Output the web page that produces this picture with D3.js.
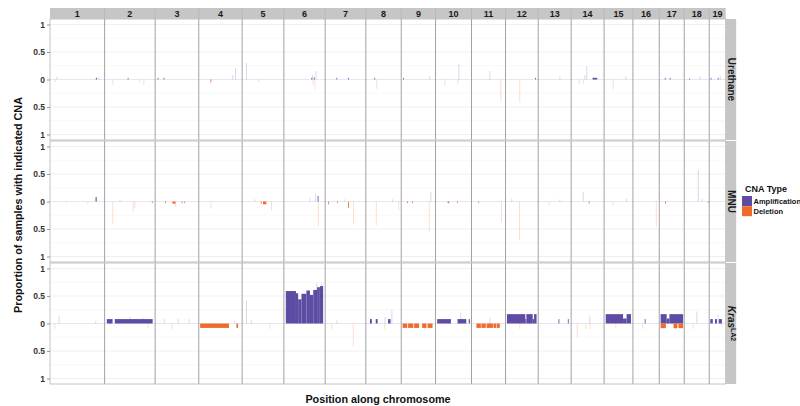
<!DOCTYPE html>
<html>
<head>
<meta charset="utf-8">
<script src="https://d3js.org/d3.v7.min.js"></script>
<style>
  body { margin: 0; background: #fff; }
  text { font-family: "Liberation Sans", Arial, Helvetica, sans-serif; font-weight: bold; }
</style>
</head>
<body>
<div id="chart"></div>
<script>
// chromosomes and their plotted length (Mb)
const chrNames = ["1","2","3","4","5","6","7","8","9","10","11","12","13","14","15","16","17","18","19"]
const chrLengths = [199,184,159,158,152,150.5,148,129,125,131,124,119,120,120,105,96,91,91,60]

const groupNames = ["Urethane","MNU","Kras"]
const yTicks = [-1,-0.5,0,0.5,1]

// segments: [chromosome, start Mb, end Mb, proportion]
// probes:   [chromosome, position Mb, proportion]
const urethaneAmp = [[1,167,171,0.03],[2,84,87,0.03],[3,9,12,0.03],[3,31,34,0.03],[6,100,103,0.03],[6,109,112,0.04],
  [7,41,44,0.03],[7,83,86,0.03],[8,31,34,0.03],[9,7,10,0.03],[12,108,111,0.03],[14,78,95,0.03],[17,20,23,0.03],
  [17,38,41,0.03],[18,18,21,0.02],[19,5,8,0.03],[19,31,34,0.03]]
const urethaneAmpProbes = [[1,25,0.05],[1,178,0.04],[4,124,0.08],[4,134,0.21],[5,16,0.3],[6,117,0.15],[6,104,0.08],
  [9,104,0.06],[10,85,0.27],[11,67,0.15],[13,79,0.05],[14,57,0.24],[14,50,0.08],[15,79,0.05],[18,57,0.05],[19,40,0.06]]
const urethaneDel = [[4,43,46,0.04]]
const urethaneDelProbes = [[1,18,0.05],[2,30,0.1],[2,143,0.1],[2,128,0.06],[4,43,0.08],[5,60,0.05],[6,113,0.18],
  [6,106,0.1],[8,40,0.17],[10,34,0.12],[10,81,0.08],[11,107,0.39],[12,52,0.42],[14,29,0.1],[14,44,0.08],[15,33,0.18]]

const mnuAmp = [[1,166,170,0.08],[6,123,126,0.1]]
const mnuAmpProbes = [[6,116,0.14],[6,95,0.06],[9,108,0.17],[2,56,0.04],[5,46,0.04],[7,72,0.04],[8,98,0.04],
  [12,23,0.05],[13,79,0.04],[14,44,0.17],[15,82,0.05],[18,51,0.58],[18,65,0.05]]
const mnuDel = [[2,172,175,0.03],[3,36,39,0.03],[3,63,74,0.04],[3,97,100,0.03],[3,106,109,0.03],[5,68,71,0.04],
  [5,76,88,0.05],[7,11,14,0.05],[7,43,46,0.03],[7,83,86,0.12],[9,21,24,0.03],[9,40,43,0.03],[10,44,50,0.03],
  [10,78,81,0.03],[11,25,28,0.03],[14,64,67,0.04],[17,21,24,0.04],[18,86,89,0.03]]
const mnuDelProbes = [[1,138,0.05],[1,60,0.03],[2,30,0.41],[2,104,0.19],[2,110,0.12],[3,75,0.1],[4,44,0.13],
  [5,107,0.16],[6,125,0.46],[7,103,0.42],[8,38,0.43],[8,120,0.16],[9,102,0.55],[11,109,0.37],[12,51,0.7],
  [13,40,0.06],[15,32,0.08],[16,85,0.46]]

const krasAmp = [[2,8,29,0.08],[2,37,175,0.08],
  [6,7,44,0.59],[6,44,52,0.55],[6,52,64,0.44],[6,64,82,0.54],[6,82,95,0.6],[6,95,107,0.52],[6,107,121,0.61],
  [6,121,131,0.66],[6,131,143,0.68],
  [8,15,22,0.08],[8,36,43,0.08],[8,81,90,0.08],
  [10,6,56,0.08],[10,80,112,0.08],[10,121,125,0.08],
  [12,5,72,0.17],[12,72,76,0.08],[12,76,99,0.17],[12,99,104,0.08],[12,104,113,0.17],
  [13,74,77,0.08],[13,108,111,0.08],
  [15,6,69,0.17],[15,69,82,0.09],[15,82,98,0.17],
  [16,43,46,0.08],
  [17,5,27,0.17],[17,27,37,0.09],[17,37,87,0.17],
  [19,4,13,0.08],[19,21,28,0.08],[19,35,46,0.08]]
const krasAmpProbes = [[1,33,0.13],[1,167,0.05],[2,92,0.12],[2,140,0.1],[3,33,0.08],[3,84,0.08],[3,124,0.08],
  [4,131,0.06],[5,16,0.42],[5,33,0.06],[6,120,0.74],[6,138,0.72],[7,43,0.06],[8,95,0.25],[8,70,0.12],[10,92,0.2],
  [11,67,0.1],[12,88,0.1],[14,68,0.15],[15,57,0.12],[17,60,0.12],[18,46,0.22],[19,32,0.15]]
const krasDel = [[4,5,110,0.08],[4,137,143,0.08],
  [9,5,22,0.08],[9,25,44,0.08],[9,47,65,0.08],[9,76,92,0.08],[9,96,114,0.08],
  [11,18,34,0.08],[11,36,52,0.08],[11,55,78,0.08],[11,80,90,0.08],[11,92,103,0.08],
  [17,5,24,0.085],[17,52,66,0.085],[17,70,87,0.085]]
const krasDelProbes = [[1,18,0.1],[2,158,0.08],[3,61,0.1],[4,51,0.06],[5,101,0.1],[7,102,0.42],[7,24,0.1],
  [8,69,0.1],[9,86,0.12],[12,52,0.1],[14,22,0.25],[14,54,0.1],[14,69,0.1],[15,43,0.08],[16,36,0.1],[17,60,0.12],
  [18,32,0.1],[19,46,0.06]]

const groups = [
  {name:"Urethane", amp:urethaneAmp, ampProbes:urethaneAmpProbes, del:urethaneDel, delProbes:urethaneDelProbes},
  {name:"MNU", amp:mnuAmp, ampProbes:mnuAmpProbes, del:mnuDel, delProbes:mnuDelProbes},
  {name:"Kras", amp:krasAmp, ampProbes:krasAmpProbes, del:krasDel, delProbes:krasDelProbes}
]

const ampColor = "#5e4ba3"
const delColor = "#ef6a2b"

// layout
const width = 800, height = 406
const left = 50, right = 725.7
const stripTop = 8, rowTop = 19, rowH = 121, rowStep = 122

const svg = d3.select("#chart").append("svg").attr("width", width).attr("height", height)

// genome x scale, each chromosome gets room for its length
const chrOffset = [0, ...d3.cumsum(chrLengths)]
const x = d3.scaleLinear().domain([0, d3.sum(chrLengths)]).range([left, right])
const pos = (chr, mb) => x(chrOffset[chr-1] + mb)

groups.forEach((grp, i) => {
  const top = rowTop + i*rowStep
  const y = d3.scaleLinear().domain([-1.1, 1.1]).range([top+rowH, top])
  const g = svg.append("g")

  g.append("rect").attr("x", left).attr("y", top).attr("width", right-left).attr("height", rowH).attr("fill", "#fff")

  // grid lines
  g.selectAll(".minor").data([-0.75,-0.25,0.25,0.75]).enter().append("line")
    .attr("x1", left).attr("x2", right).attr("y1", d => y(d)).attr("y2", d => y(d))
    .attr("stroke", "#f3f3f3").attr("stroke-width", 0.6)
  g.selectAll(".major").data(yTicks).enter().append("line")
    .attr("x1", left).attr("x2", right).attr("y1", d => y(d)).attr("y2", d => y(d))
    .attr("stroke", d => d === 0 ? "#e4dfee" : "#ebebeb").attr("stroke-width", 0.8)

  // faint single-probe spikes
  g.selectAll(".ap").data(grp.ampProbes).enter().append("rect")
    .attr("x", d => pos(d[0], d[1]) - 0.4).attr("width", 0.8)
    .attr("y", d => y(d[2])).attr("height", d => y(0) - y(d[2]))
    .attr("fill", ampColor).attr("opacity", 0.28)
  g.selectAll(".dp").data(grp.delProbes).enter().append("rect")
    .attr("x", d => pos(d[0], d[1]) - 0.4).attr("width", 0.8)
    .attr("y", y(0)).attr("height", d => y(-d[2]) - y(0))
    .attr("fill", delColor).attr("opacity", 0.28)

  // segments
  g.selectAll(".as").data(grp.amp).enter().append("rect")
    .attr("x", d => pos(d[0], d[1])).attr("width", d => Math.max(pos(d[0], d[2]) - pos(d[0], d[1]), 0.8))
    .attr("y", d => y(d[3])).attr("height", d => y(0) - y(d[3]))
    .attr("fill", ampColor)
  g.selectAll(".ds").data(grp.del).enter().append("rect")
    .attr("x", d => pos(d[0], d[1])).attr("width", d => Math.max(pos(d[0], d[2]) - pos(d[0], d[1]), 0.8))
    .attr("y", y(0)).attr("height", d => y(-d[3]) - y(0))
    .attr("fill", delColor)

  // chromosome separators
  g.selectAll(".sep").data(chrOffset.slice(1, -1)).enter().append("line")
    .attr("x1", d => x(d)).attr("x2", d => x(d)).attr("y1", top).attr("y2", top+rowH)
    .attr("stroke", "#a2a2a2").attr("stroke-width", 1)
  g.append("rect").attr("x", left).attr("y", top).attr("width", right-left).attr("height", rowH)
    .attr("fill", "none").attr("stroke", "#b4b4b4").attr("stroke-width", 0.8)

  // y axis
  const axis = g.append("g").attr("transform", "translate(" + left + ",0)")
    .call(d3.axisLeft(y).tickValues(yTicks).tickSize(3).tickPadding(2)
      .tickFormat(d => d3.format("~g")(Math.abs(d))))
  axis.select(".domain").remove()
  axis.selectAll("line").attr("stroke", "#999")
  axis.selectAll("text").attr("fill", "#333").style("font-size", "8.5px")

  // right strip
  g.append("rect").attr("x", right).attr("y", top).attr("width", 10.5).attr("height", rowH).attr("fill", "#c6c6c6")
  const lab = g.append("text").attr("transform", "translate(" + (right+2.2) + "," + (top+rowH/2) + ") rotate(90)")
    .attr("text-anchor", "middle").attr("fill", "#1a1a1a").style("font-size", "10px")
  if (grp.name === "Kras") {
    lab.append("tspan").style("font-style", "italic").text("Kras")
    lab.append("tspan").attr("dy", -3.5).style("font-size", "7px").text("LA2")
  } else {
    lab.text(grp.name)
  }
})

// top strip with chromosome names
svg.append("rect").attr("x", left).attr("y", stripTop).attr("width", right-left).attr("height", rowTop-stripTop)
  .attr("fill", "#c6c6c6")
svg.selectAll(".strip-sep").data(chrOffset.slice(1, -1)).enter().append("line")
  .attr("x1", d => x(d)).attr("x2", d => x(d)).attr("y1", stripTop).attr("y2", rowTop)
  .attr("stroke", "#b0b0b0").attr("stroke-width", 0.6)
svg.selectAll(".chr-label").data(chrNames).enter().append("text")
  .attr("x", (d, i) => x(chrOffset[i] + chrLengths[i]/2)).attr("y", 16.8)
  .attr("text-anchor", "middle").attr("fill", "#1a1a1a").style("font-size", "9px")
  .text(d => d)

// axis titles
svg.append("text").attr("transform", "translate(21.5,205) rotate(-90)").attr("text-anchor", "middle")
  .attr("fill", "#111").style("font-size", "10.8px").text("Proportion of samples with indicated CNA")
svg.append("text").attr("x", 378).attr("y", 403).attr("text-anchor", "middle")
  .attr("fill", "#111").style("font-size", "10.8px").text("Position along chromosome")

// legend
const legend = svg.append("g").attr("transform", "translate(742,0)")
legend.append("text").attr("x", 3).attr("y", 192).attr("fill", "#111").style("font-size", "9px").text("CNA Type")
const items = [{label:"Amplification", color:ampColor}, {label:"Deletion", color:delColor}]
const li = legend.selectAll(".item").data(items).enter().append("g")
  .attr("transform", (d, i) => "translate(0," + (196 + i*10.2) + ")")
li.append("rect").attr("width", 10).attr("height", 10).attr("fill", d => d.color)
li.append("text").attr("x", 11.5).attr("y", 7.8).attr("fill", "#111").style("font-size", "7.5px").text(d => d.label)
</script>
</body>
</html>
